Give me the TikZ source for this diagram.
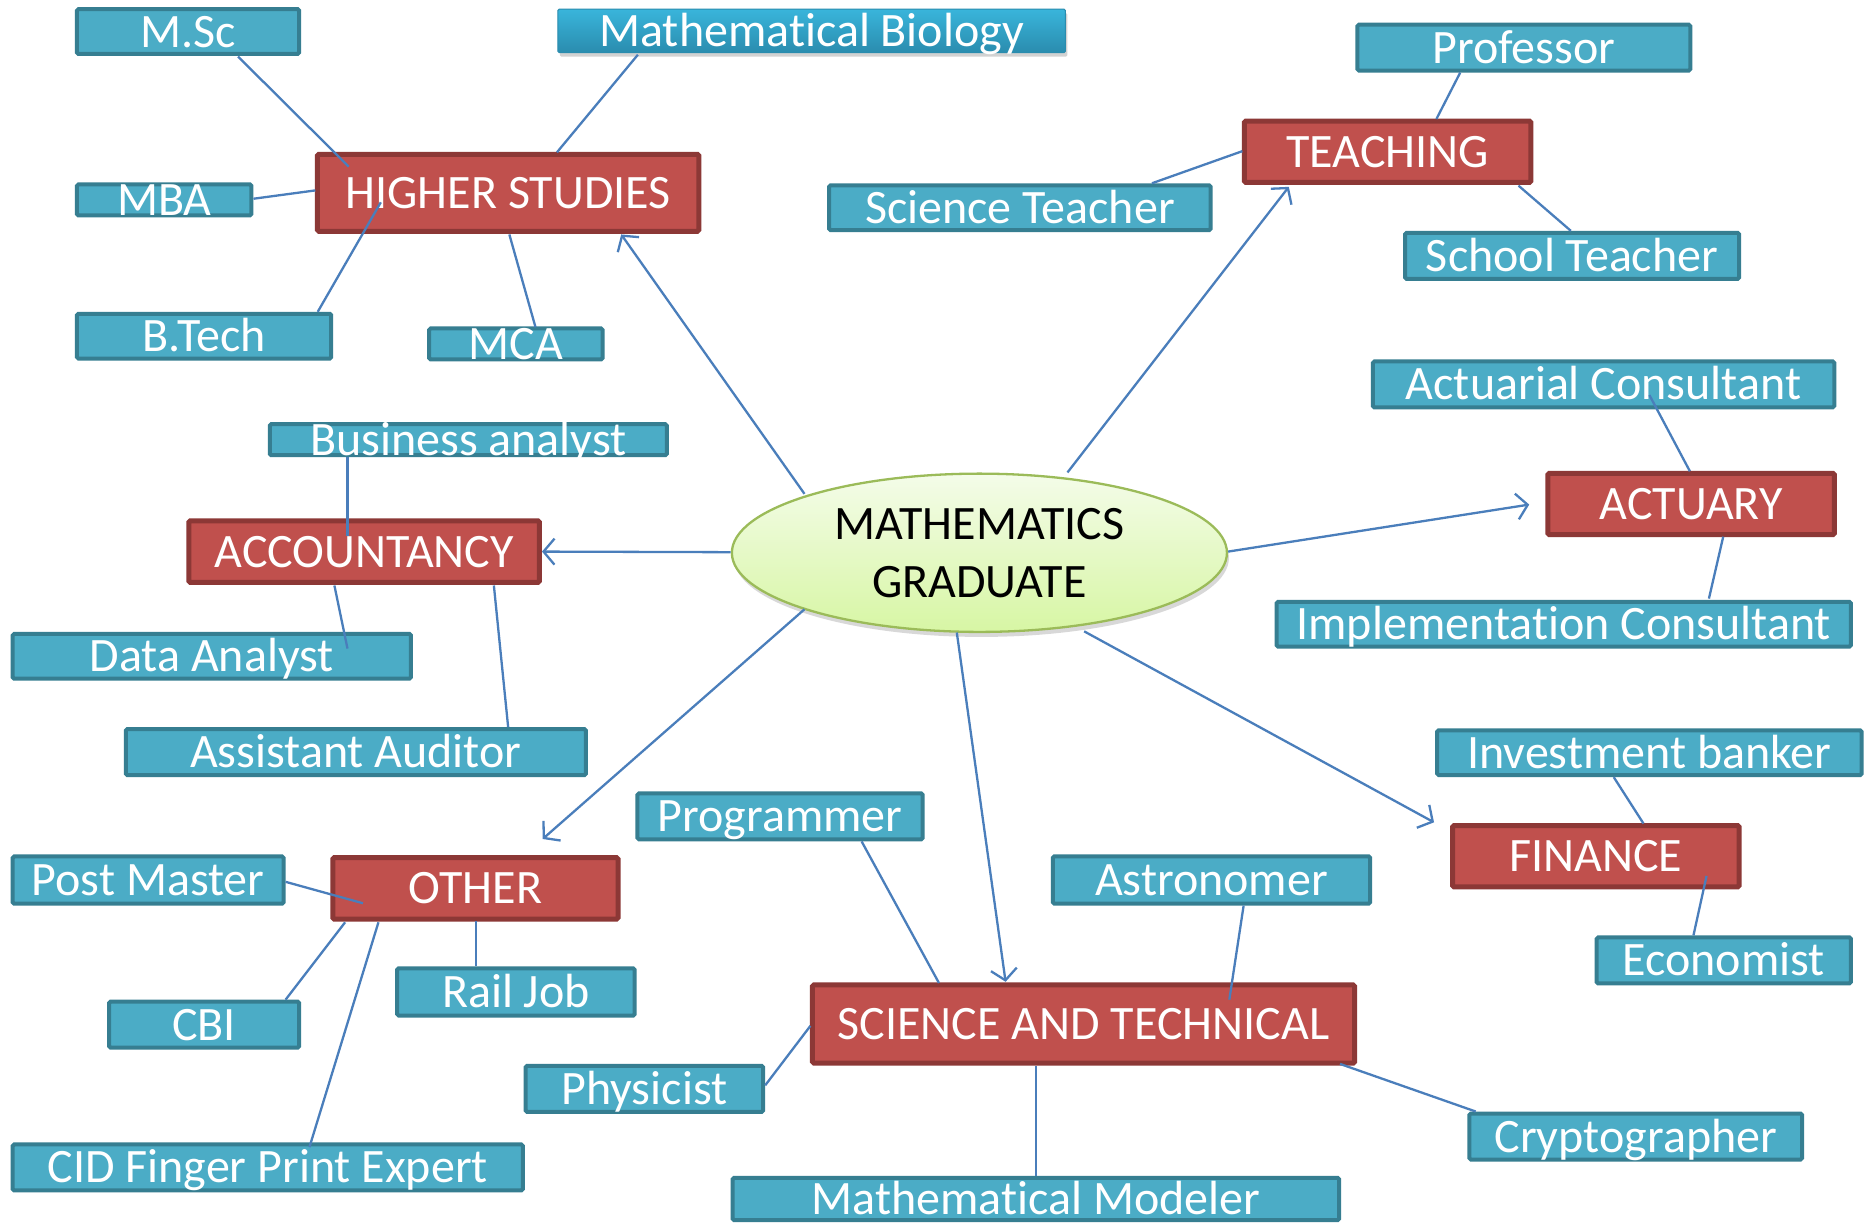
\documentclass[tikz,border=0pt]{standalone}
\usepackage{fontspec}
\setmainfont[Ligatures=NoCommon]{Carlito}
\usetikzlibrary{shapes.geometric,arrows.meta,calc,shadows}
\definecolor{catfill}{HTML}{C0504D}
\definecolor{catborder}{HTML}{8C3836}
\definecolor{leaffill}{HTML}{4BACC6}
\definecolor{leafborder}{HTML}{367E91}
\definecolor{conncol}{HTML}{4A7EBB}
\definecolor{biotop}{HTML}{39B5DB}
\definecolor{biobot}{HTML}{2A8CAE}
\definecolor{elltop}{HTML}{F4FCE9}
\definecolor{ellbot}{HTML}{D7F6A4}
\definecolor{ellborder}{HTML}{9BBB59}
\newcommand\bigfont{\fontsize{48}{58}\selectfont}
\newcommand\mknode[7]{\node[#1, minimum width={(#5-#3)*1.19pt-4pt}, minimum height={(#6-#4)*1.19pt-4pt}] (#2) at ({(#3+#5)/2},{(#4+#6)/2}) {#7};}
\tikzset{
  basebox/.style={rectangle, inner sep=0pt, text=white, font=\bigfont, text height=31pt, text depth=0pt, rounded corners=1.5pt},
  leaf/.style={basebox, draw=leafborder, line width=4pt, fill=leaffill},
  cat/.style={basebox, draw=catborder, line width=5pt, fill=catfill},
  biobox/.style={basebox, top color=biotop, bottom color=biobot, draw=biobot, line width=1pt,
     drop shadow={opacity=0.35, shadow xshift=2pt, shadow yshift=-4pt}},
  conn/.style={draw=conncol, line width=2.3pt},
  arr/.style={conn, -{Straight Barb[length=11pt,width=26pt,line width=2.3pt]}},
}
\begin{document}
\begin{tikzpicture}[x=1.19pt,y=-1.19pt]
\fill[white] (0,0) rectangle (1568,1028);
\useasboundingbox (0,0) rectangle (1568,1028);

% central ellipse
\node[ellipse, draw=ellborder, line width=2.3pt, top color=elltop, bottom color=ellbot,
  minimum width={416*1.19pt}, minimum height={133*1.19pt}, inner sep=0pt, align=center,
  font=\bigfont, text=black, drop shadow={opacity=0.3, shadow xshift=2pt, shadow yshift=-5pt}]
  (grad) at (823,464.5) {MATHEMATICS\\GRADUATE};

% categories
\mknode{cat}{hs}{265}{128}{589}{196}{HIGHER STUDIES}
\mknode{cat}{teach}{1044}{100}{1288}{155}{TEACHING}
\mknode{cat}{actu}{1299}{396}{1543}{451}{ACTUARY}
\mknode{cat}{acct}{157}{436}{455}{491}{ACCOUNTANCY}
\mknode{cat}{fin}{1219}{692}{1463}{747}{FINANCE}
\mknode{cat}{other}{278}{719}{521}{774}{OTHER}
\mknode{cat}{sci}{681}{826}{1140}{895}{SCIENCE AND TECHNICAL}

% leaves
\mknode{leaf}{msc}{63}{6}{253}{47}{M.Sc}
\mknode{biobox}{mbio}{467}{6}{897}{46}{Mathematical Biology}
\mknode{leaf}{mba}{63}{154}{213}{182}{MBA}
\mknode{leaf}{btech}{63}{262}{280}{303}{B.Tech}
\mknode{leaf}{mca}{359}{275}{508}{303}{MCA}
\mknode{leaf}{prof}{1139}{19}{1422}{61}{Professor}
\mknode{leaf}{scit}{695}{154}{1019}{195}{Science Teacher}
\mknode{leaf}{scht}{1179}{194}{1463}{236}{School Teacher}
\mknode{leaf}{actc}{1152}{302}{1543}{344}{Actuarial Consultant}
\mknode{leaf}{impc}{1071}{504}{1557}{545}{Implementation Consultant}
\mknode{leaf}{busa}{225}{355}{562}{384}{Business analyst}
\mknode{leaf}{data}{9}{531}{347}{572}{Data Analyst}
\mknode{leaf}{audit}{104}{611}{494}{653}{Assistant Auditor}
\mknode{leaf}{invb}{1206}{612}{1566}{653}{Investment banker}
\mknode{leaf}{econ}{1340}{786}{1557}{828}{Economist}
\mknode{leaf}{prog}{534}{665}{777}{707}{Programmer}
\mknode{leaf}{astro}{883}{718}{1153}{761}{Astronomer}
\mknode{leaf}{post}{9}{718}{240}{761}{Post Master}
\mknode{leaf}{cbi}{90}{840}{253}{882}{CBI}
\mknode{leaf}{rail}{332}{812}{535}{855}{Rail Job}
\mknode{leaf}{phys}{440}{894}{643}{936}{Physicist}
\mknode{leaf}{cid}{9}{960}{441}{1002}{CID Finger Print Expert}
\mknode{leaf}{crypt}{1233}{934}{1516}{976}{Cryptographer}
\mknode{leaf}{model}{614}{988}{1127}{1027}{Mathematical Modeler}

% arrows from the centre
\draw[arr] ($(grad)+(-147,-49.5)$) -- ($(hs)+(95,35)$);
\draw[arr] ($(grad)+(74,-67.5)$) -- ($(teach)+(-83,29.5)$);
\draw[arr] ($(grad.east)+(0,-1)$) -- ($(actu)+(-136,0.5)$);
\draw[arr] ($(grad.west)+(0,-0.5)$) -- (acct.east);
\draw[arr] ($(grad)+(-147,47.5)$) -- ($(other)+(56.5,-41.5)$);
\draw[arr] ($(grad)+(-19,67)$) -- ($(sci)+(-65.5,-35.5)$);
\draw[arr] ($(grad)+(88,66)$) -- ($(fin)+(-136,-28.5)$);

% lines to the leaves
\draw[conn] ($(msc)+(42,21)$) -- ($(hs)+(-134,-22)$);
\draw[conn] ($(mbio)+(-146,20)$) -- ($(hs)+(41,-34)$);
\draw[conn] ($(mba)+(75,-1)$) -- ($(hs)+(-162,-2)$);
\draw[conn] ($(btech)+(95.5,-20.5)$) -- ($(hs)+(-107,8)$);
\draw[conn] ($(mca)+(16.5,-14)$) -- ($(hs)+(1,35)$);
\draw[conn] ($(prof)+(-53.5,21)$) -- ($(teach)+(41,-27.5)$);
\draw[conn] ($(scit)+(111,-20.5)$) -- ($(teach)+(-122,-0.5)$);
\draw[conn] ($(scht)+(-1,-21)$) -- ($(teach)+(110,28.5)$);
\draw[conn] ($(actc)+(38.5,9)$) -- ($(actu)+(-1,-27.5)$);
\draw[conn] ($(impc)+(122,-21.5)$) -- ($(actu)+(27,27.5)$);
\draw[conn] ($(busa)+(-101.5,14.5)$) -- ($(acct)+(-14,-13.5)$);
\draw[conn] ($(data)+(114,-6.5)$) -- ($(acct)+(-25,28.5)$);
\draw[conn] ($(audit)+(128,-21)$) -- ($(acct)+(109,28.5)$);
\draw[conn] ($(invb)+(-30,20.5)$) -- ($(fin)+(40,-27.5)$);
\draw[conn] ($(econ)+(-25.5,-21)$) -- ($(fin)+(93,16.5)$);
\draw[conn] ($(prog)+(68.5,21)$) -- ($(sci)+(-121.5,-34.5)$);
\draw[conn] ($(astro)+(27,21.5)$) -- ($(sci)+(122.5,-20.5)$);
\draw[conn] ($(post)+(115.5,1.5)$) -- ($(other)+(-94.5,12.5)$);
\draw[conn] ($(cbi)+(68.5,-21)$) -- ($(other)+(-109.5,28.5)$);
\draw[conn] ($(rail)+(-33.5,-21.5)$) -- ($(other)+(0.5,27.5)$);
\draw[conn] ($(cid)+(35,-17)$) -- ($(other)+(-81.5,28.5)$);
\draw[conn] ($(phys)+(101.5,-3)$) -- ($(sci)+(-229.5,1.5)$);
\draw[conn] ($(crypt)+(-134.5,-21)$) -- ($(sci)+(215.5,33.5)$);
\draw[conn] (model.north) -- (model.north |- sci.south);
\end{tikzpicture}
\end{document}
